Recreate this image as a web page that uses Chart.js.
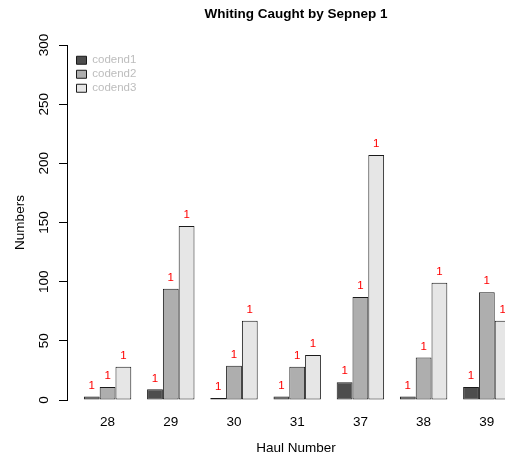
<!DOCTYPE html>
<html>
<head>
<meta charset="utf-8">
<script src="https://cdn.jsdelivr.net/npm/chart.js@4/dist/chart.umd.min.js"></script>
<style>
  html, body { margin: 0; padding: 0; overflow: hidden; background: #fff; }
  #wrap { width: 530px; height: 460px; }
</style>
</head>
<body>
<div id="wrap"><canvas id="chart"></canvas></div>
<script>
'use strict';

var hauls = ['28', '29', '30', '31', '37', '38', '39'];
var codend1 = [3, 9, 1, 3, 15, 3, 11];
var codend2 = [11, 94, 29, 28, 87, 36, 91];
var codend3 = [28, 147, 67, 38, 207, 99, 67];
var yTicks = [0, 50, 100, 150, 200, 250, 300];
var barTag = '1';

var seriesNames = ['codend1', 'codend2', 'codend3'];
var seriesValues = [codend1, codend2, codend3];
var seriesColors = ['#4D4D4D', '#AEAEAE', '#E6E6E6'];

Chart.defaults.font.family = "'Liberation Sans', Arial, Helvetica, sans-serif";
Chart.defaults.color = '#000';

var datasets = [];
for (var i = 0; i < seriesNames.length; i++) {
  var pts = [];
  for (var j = 0; j < hauls.length; j++) {
    pts.push({ x: j, y: seriesValues[i][j] });
  }
  datasets.push({
    label: seriesNames[i],
    data: pts,
    backgroundColor: seriesColors[i],
    borderColor: '#1a1a1a',
    borderWidth: 1,
    borderSkipped: false,
    minBarLength: 2,
    categoryPercentage: 0.75,
    barPercentage: 1
  });
}

// red tags over the bars, y tick labels turned like R does
var extras = {
  id: 'extras',
  afterLayout: function (chart) {
    // legend sits inside the plot, a bit in from the corner
    var lg = chart.legend;
    var h = lg.bottom - lg.top;
    lg.left = chart.chartArea.left + 7;
    lg.top = chart.chartArea.top + 7;
    lg.bottom = lg.top + h;
  },
  afterDatasetsDraw: function (chart) {
    var c = chart.ctx;
    c.save();
    c.fillStyle = '#ff0000';
    c.font = "11.5px 'Liberation Sans', Arial, sans-serif";
    c.textAlign = 'center';
    c.textBaseline = 'middle';
    chart.data.datasets.forEach(function (ds, di) {
      chart.getDatasetMeta(di).data.forEach(function (bar) {
        c.fillText(barTag, bar.x, bar.y - 11);
      });
    });
    c.restore();
  },
  afterDraw: function (chart) {
    var c = chart.ctx;
    var y = chart.scales.y;
    c.save();
    c.fillStyle = '#000';
    c.font = "13.5px 'Liberation Sans', Arial, sans-serif";
    c.textAlign = 'center';
    c.textBaseline = 'middle';
    y.ticks.forEach(function (t) {
      c.save();
      c.translate(44, y.getPixelForValue(t.value));
      c.rotate(-Math.PI / 2);
      c.fillText(String(t.value), 0, 0);
      c.restore();
    });
    c.restore();
  }
};

new Chart(document.getElementById('chart'), {
  type: 'bar',
  data: { datasets: datasets },
  options: {
    responsive: true,
    maintainAspectRatio: false,
    animation: false,
    layout: { padding: { left: 0, right: 5, top: 0, bottom: 0 } },
    plugins: {
      title: {
        display: true,
        text: 'Whiting Caught by Sepnep 1',
        fullSize: false,
        font: { size: 13.5, weight: 'bold' },
        color: '#000',
        padding: { top: 6, bottom: 22.8 }
      },
      legend: {
        position: 'chartArea',
        align: 'start',
        labels: {
          boxWidth: 10,
          boxHeight: 8,
          padding: 2.5,
          color: '#bdbdbd',
          font: { size: 11.5 }
        }
      },
      tooltip: { enabled: false }
    },
    scales: {
      x: {
        type: 'linear',
        offset: false,
        min: -0.642,
        max: 6.604,
        grid: { display: false, drawTicks: false },
        border: { display: false },
        afterBuildTicks: function (scale) {
          scale.ticks = hauls.map(function (h, k) { return { value: k }; });
        },
        afterFit: function (scale) { scale.height = 60; },
        ticks: {
          padding: 14,
          font: { size: 13.5 },
          color: '#000',
          callback: function (v) { return hauls[v]; }
        },
        title: {
          display: true,
          text: 'Haul Number',
          font: { size: 13.5 },
          color: '#000',
          padding: { top: 0, bottom: 4 }
        }
      },
      y: {
        min: 0,
        max: 300,
        afterBuildTicks: function (scale) {
          scale.ticks = yTicks.map(function (v) { return { value: v }; });
        },
        afterFit: function (scale) { scale.width = 67; },
        grid: { drawOnChartArea: false, drawTicks: true, tickLength: 8, color: '#000' },
        border: { display: true, color: '#000', width: 1 },
        ticks: { display: false },
        title: {
          display: true,
          text: 'Numbers',
          font: { size: 13.5 },
          color: '#000',
          padding: { top: 12, bottom: 0 }
        }
      }
    }
  },
  plugins: [extras]
});
</script>
</body>
</html>
